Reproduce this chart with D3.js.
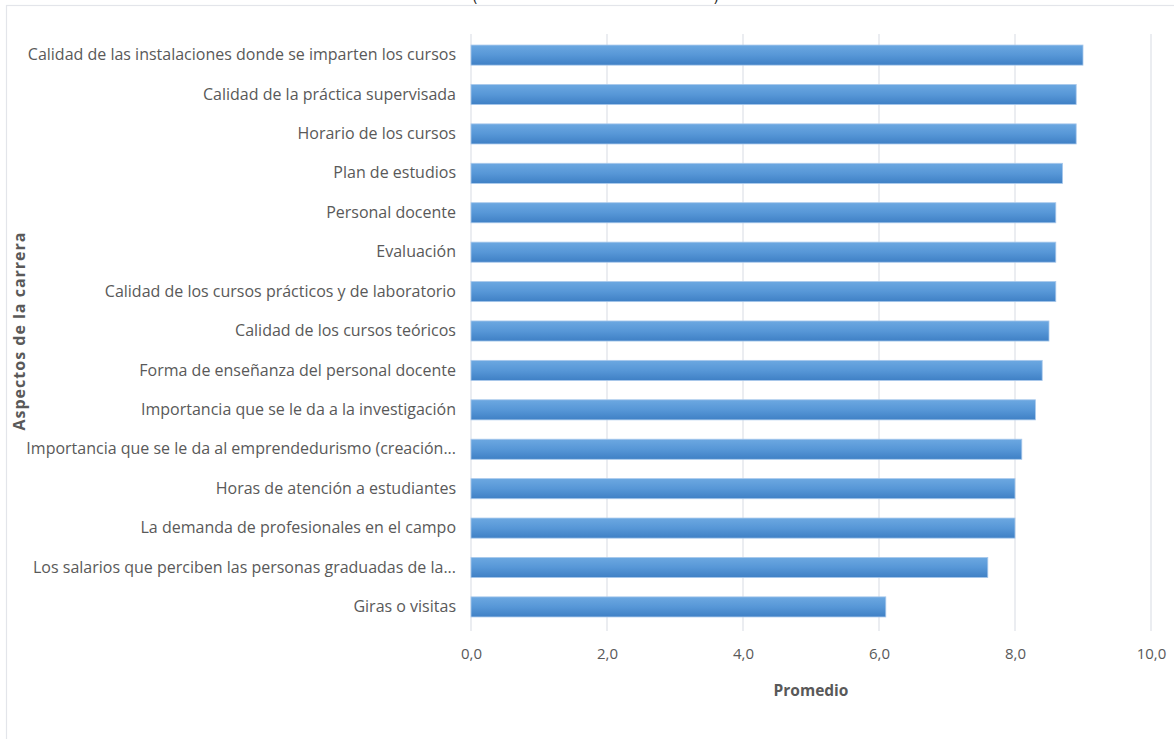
<!DOCTYPE html>
<html>
<head>
<meta charset="utf-8">
<script src="https://cdn.jsdelivr.net/npm/d3@7"></script>
<style>
  html, body { margin: 0; padding: 0; background: #fff; }
  svg { display: block; }
  text { font-family: "Open Sans", "Liberation Sans", sans-serif; }
</style>
</head>
<body>
<svg id="chart" width="1174" height="739"></svg>
<script>
const categories = [
  "Calidad de las instalaciones donde se imparten los cursos",
  "Calidad de la práctica supervisada",
  "Horario de los cursos",
  "Plan de estudios",
  "Personal docente",
  "Evaluación",
  "Calidad de los cursos prácticos  y de laboratorio",
  "Calidad de los cursos teóricos",
  "Forma de enseñanza del personal docente",
  "Importancia que se le da a la investigación",
  "Importancia que se le da al emprendedurismo (creación...",
  "Horas de atención a estudiantes",
  "La demanda de profesionales en el campo",
  "Los salarios que perciben las personas graduadas de la...",
  "Giras o visitas"
];
const values = [9.0, 8.9, 8.9, 8.7, 8.6, 8.6, 8.6, 8.5, 8.4, 8.3, 8.1, 8.0, 8.0, 7.6, 6.1];
const xTicks = [0, 2, 4, 6, 8, 10];
const xTitle = "Promedio";
const yTitle = "Aspectos de la carrera";

const svg = d3.select("#chart");
const pLeft = 471, pRight = 1151, pTop = 34, pBottom = 628;

const x = d3.scaleLinear().domain([0, 10]).range([pLeft, pRight]);
const y = d3.scaleBand().domain(categories).range([pTop, pBottom])
  .paddingInner(0.49).paddingOuter(0.28);

// frame
svg.append("rect").attr("x", 6.5).attr("y", 5.5).attr("width", 1180).attr("height", 760)
  .attr("fill", "none").attr("stroke", "#e3e5ea").attr("stroke-width", 1.2);

// clipped title remnants
svg.append("text").attr("x", 473).attr("y", 1).attr("font-size", 14).attr("fill", "#222").text("(");
svg.append("text").attr("x", 714).attr("y", 1).attr("font-size", 14).attr("fill", "#222").text(")");

// gradient
const defs = svg.append("defs");
const g = defs.append("linearGradient").attr("id", "barGrad").attr("x1", 0).attr("y1", 0).attr("x2", 0).attr("y2", 1);
g.append("stop").attr("offset", "0%").attr("stop-color", "#6ca8e1");
g.append("stop").attr("offset", "50%").attr("stop-color", "#5797d7");
g.append("stop").attr("offset", "100%").attr("stop-color", "#3f80c5");

// gridlines
svg.append("g").selectAll("line").data(xTicks).join("line")
  .attr("x1", d => x(d)).attr("x2", d => x(d))
  .attr("y1", pTop).attr("y2", pBottom + 3)
  .attr("stroke", "#e1e3ea").attr("stroke-width", 1.3);

// bars
svg.append("g").selectAll("rect").data(values).join("rect")
  .attr("x", x(0))
  .attr("y", (d, i) => y(categories[i]))
  .attr("width", d => x(d) - x(0))
  .attr("height", y.bandwidth())
  .attr("fill", "url(#barGrad)")
  .attr("stroke", "#a9c9ec").attr("stroke-width", 0.8);

// y axis labels
const yAxis = d3.axisLeft(y).tickSize(0).tickPadding(15);
const ya = svg.append("g").attr("transform", `translate(${x(0)},0)`).call(yAxis);
ya.select(".domain").remove();
ya.selectAll("text").attr("font-size", 16).attr("fill", "#595959")
  .attr("font-family", "'Open Sans', sans-serif").attr("letter-spacing", 0);

// x axis labels
const xAxis = d3.axisBottom(x).tickValues(xTicks).tickSize(0).tickPadding(20)
  .tickFormat(d => d3.format(".1f")(d).replace(".", ","));
const xa = svg.append("g").attr("transform", `translate(0,${pBottom})`).call(xAxis);
xa.select(".domain").remove();
xa.selectAll("text").attr("font-size", 15).attr("fill", "#595959")
  .attr("font-family", "'Open Sans', sans-serif");

// titles
svg.append("text").attr("x", (pLeft + pRight) / 2).attr("y", 696)
  .attr("text-anchor", "middle").attr("font-size", 15.5).attr("font-weight", "bold")
  .attr("fill", "#595959").text(xTitle);
svg.append("text").attr("transform", `translate(25,${(pTop + pBottom) / 2}) rotate(-90)`)
  .attr("text-anchor", "middle").attr("font-size", 16).attr("font-weight", "bold")
  .attr("fill", "#595959").attr("letter-spacing", 1).text(yTitle);
</script>
</body>
</html>
